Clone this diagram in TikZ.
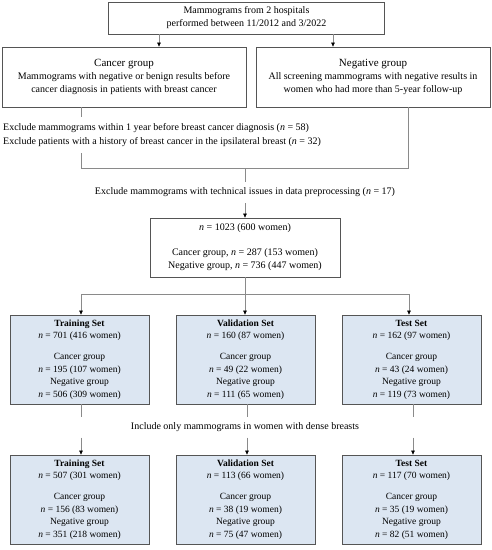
\documentclass[tikz,border=0pt]{standalone}
\usepackage{fontspec}
\setmainfont{Liberation Serif}
\usetikzlibrary{arrows.meta}
\definecolor{boxblue}{HTML}{DCE6F2}
\definecolor{bordergray}{HTML}{555555}
\definecolor{linegray}{HTML}{8A8A8A}
\newcommand{\nn}{\textit{n}}
\begin{document}
\begin{tikzpicture}[x=1pt,y=1pt,
  txt/.style={font=\fontsize{10}{13}\selectfont, inner sep=0pt},
  plainbox/.style={draw=bordergray, line width=0.8pt, fill=white, align=center, inner sep=0pt, font=\fontsize{10}{13}\selectfont},
  setbox/.style={draw=bordergray, line width=0.8pt, fill=boxblue, align=center, inner sep=0pt, minimum width=139pt, minimum height=89pt, font=\fontsize{9.5}{12.5}\selectfont},
  conn/.style={draw=linegray, line width=0.6pt},
  arr/.style={conn, -{Triangle[length=4pt,width=3.6pt,color=black]}}
]
\useasboundingbox (0,0) rectangle (492,-550);

% top
\node[plainbox, minimum width=276pt, minimum height=32pt] (top) at (246.5,-18)
  {Mammograms from 2 hospitals\\performed between 11/2012 and 3/2022};

\node[plainbox, minimum width=244pt, minimum height=60pt] (cancer) at (124,-77)
  {{\fontsize{11}{13}\selectfont Cancer group}\\Mammograms with negative or benign results before\\cancer diagnosis in patients with breast cancer};
\node[plainbox, minimum width=234pt, minimum height=60pt] (neg) at (373,-77)
  {{\fontsize{11}{13}\selectfont Negative group}\\All screening mammograms with negative results in\\women who had more than 5-year follow-up};

\coordinate (ta) at (159,-34);
\coordinate (tb) at (333,-34);
\draw[arr] (ta) -- (ta |- cancer.north);
\draw[arr] (tb) -- (tb |- neg.north);

% exclusions
\node[txt, anchor=base west] (ex1) at (3,-130) {Exclude mammograms within 1 year before breast cancer diagnosis (\nn{} = 58)};
\node[txt, anchor=base west] (ex2) at (3,-144) {Exclude patients with a history of breast cancer in the ipsilateral breast (\nn{} = 32)};

\coordinate (ca) at (81,-107);
\coordinate (cb) at (81,-117);
\coordinate (cc) at (81,-153);
\coordinate (cd) at (81,-168);
\coordinate (na) at (408,-107);
\coordinate (nd) at (408,-168);
\coordinate (ma) at (245,-168);
\coordinate (mb) at (245,-182);
\coordinate (mc) at (245,-203);
\draw[conn] (ca) -- (cb);
\draw[conn] (cc) -- (cd) -- (nd) -- (na);
\draw[conn] (ma) -- (mb);

\node[txt] (ex3) at (245,-192) {Exclude mammograms with technical issues in data preprocessing (\nn{} = 17)};

\node[plainbox, minimum width=190pt, minimum height=59pt] (mid) at (245,-247.5)
  {\nn{} = 1023 (600 women)\\[12pt]Cancer group, \nn{} = 287 (153 women)\\Negative group, \nn{} = 736 (447 women)};
\draw[arr] (mc) -- (mid.north);

% sets
\node[setbox] (tr1) at (79.5,-359.5)
  {\textbf{Training Set}\\\nn{} = 701 (416 women)\\[8.5pt]Cancer group\\\nn{} = 195 (107 women)\\Negative group\\\nn{} = 506 (309 women)};
\node[setbox] (va1) at (245.5,-359.5)
  {\textbf{Validation Set}\\\nn{} = 160 (87 women)\\[8.5pt]Cancer group\\\nn{} = 49 (22 women)\\Negative group\\\nn{} = 111 (65 women)};
\node[setbox] (te1) at (411.5,-359.5)
  {\textbf{Test Set}\\\nn{} = 162 (97 women)\\[8.5pt]Cancer group\\\nn{} = 43 (24 women)\\Negative group\\\nn{} = 119 (73 women)};

\coordinate (sl) at (81,-294);
\coordinate (sr) at (409,-294);
\coordinate (sm) at (245,-294);
\draw[conn] (mid.south) -- (sm);
\draw[conn] (sl) -- (sr);
\draw[arr] (sl) -- (sl |- tr1.north);
\draw[arr] (sm) -- (sm |- va1.north);
\draw[arr] (sr) -- (sr |- te1.north);

\node[txt] (inc) at (245,-427) {Include only mammograms in women with dense breasts};

\node[setbox] (tr2) at (79.5,-499.5)
  {\textbf{Training Set}\\\nn{} = 507 (301 women)\\[8.5pt]Cancer group\\\nn{} = 156 (83 women)\\Negative group\\\nn{} = 351 (218 women)};
\node[setbox] (va2) at (245.5,-499.5)
  {\textbf{Validation Set}\\\nn{} = 113 (66 women)\\[8.5pt]Cancer group\\\nn{} = 38 (19 women)\\Negative group\\\nn{} = 75 (47 women)};
\node[setbox] (te2) at (411.5,-499.5)
  {\textbf{Test Set}\\\nn{} = 117 (70 women)\\[8.5pt]Cancer group\\\nn{} = 35 (19 women)\\Negative group\\\nn{} = 82 (51 women)};

\foreach \a/\b in {tr1/tr2, va1/va2, te1/te2} {
  \draw[conn] ([xshift=1.5pt]\a.south) -- ++(0,-13);
  \draw[arr] ([xshift=1.5pt]\b.north) ++(0,17) -- ([xshift=1.5pt]\b.north);
}
\end{tikzpicture}
\end{document}
